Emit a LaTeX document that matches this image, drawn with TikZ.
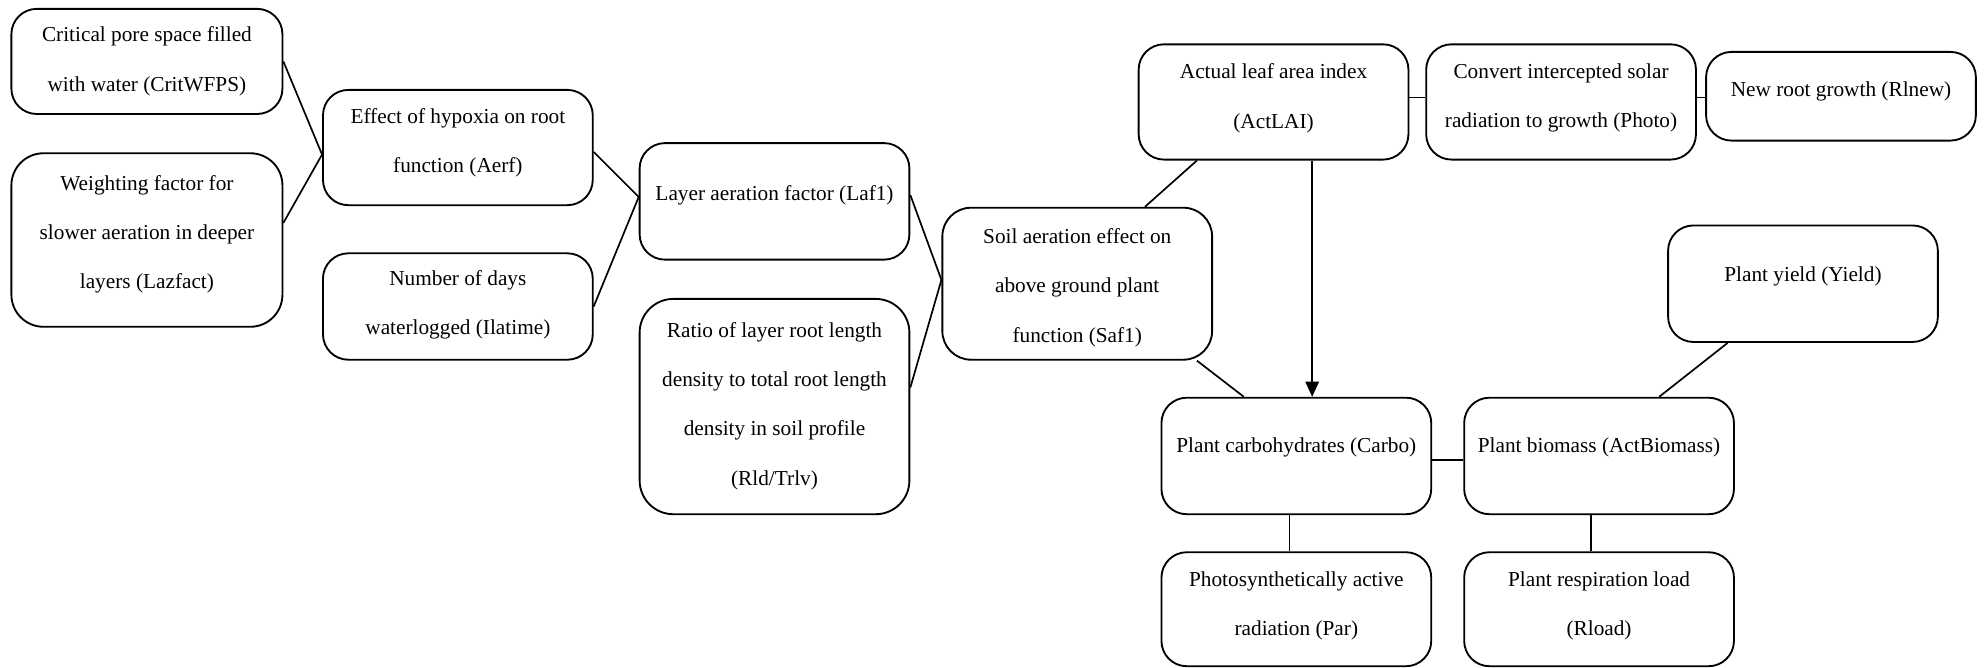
\documentclass[tikz,border=0pt]{standalone}
\usepackage{fontspec}
\setmainfont{Liberation Serif}
\newfontfamily\timesfont{Liberation Serif}
\usetikzlibrary{arrows.meta,calc,fit}
\begin{document}
\begin{tikzpicture}[x=0.75pt,y=0.75pt,yscale=-1,xscale=1,
  box/.style={draw,line width=1.1pt,rounded corners=15pt,inner sep=0pt},
  txt/.style={align=center,inner sep=0pt,font=\timesfont\fontsize{12.6}{29.25}\selectfont},
  link/.style={line width=1pt},
  arr/.style={line width=1pt,-{Triangle[length=9pt,width=8pt]}}]
\useasboundingbox (0,0) rectangle (1568,527);
%boxes
\node[box,fit={(9,7) (223,90)}] (crit) {};
\node[box,fit={(9,121) (223,258)},rounded corners=19pt] (laz) {};
\node[box,fit={(255,71) (468,162)}] (aerf) {};
\node[box,fit={(255,200) (468,284)}] (ilat) {};
\node[box,fit={(505,113) (718,205)}] (laf) {};
\node[box,fit={(505,236) (718,406)},rounded corners=20pt] (rld) {};
\node[box,fit={(744,164) (957,284)},rounded corners=17pt] (saf) {};
\node[box,fit={(899,35) (1112,126)}] (lai) {};
\node[box,fit={(1126,35) (1339,126)}] (photo) {};
\node[box,fit={(1347,41) (1560,111)}] (rlnew) {};
\node[box,fit={(1317,178) (1530,270)}] (yield) {};
\node[box,fit={(917,314) (1130,406)}] (carbo) {};
\node[box,fit={(1156,314) (1369,406)}] (biom) {};
\node[box,fit={(917,436) (1130,526)}] (par) {};
\node[box,fit={(1156,436) (1369,526)}] (rload) {};
%texts
\node[txt] (crit-t) at (116,48.5) {Critical pore space filled\\with water (CritWFPS)};
\node[txt] (laz-t) at (116,185) {Weighting factor for\\slower aeration in deeper\\layers (Lazfact)};
\node[txt] (aerf-t) at (361.5,112.5) {Effect of hypoxia on root\\function (Aerf)};
\node[txt] (ilat-t) at (361.5,240.5) {Number of days\\waterlogged (Ilatime)};
\node[txt] (laf-t) at (611.5,154) {Layer aeration factor (Laf1)};
\node[txt] (rld-t) at (611.5,320.5) {Ratio of layer root length\\density to total root length\\density in soil profile\\(Rld/Trlv)};
\node[txt] (saf-t) at (850.5,227) {Soil aeration effect on\\above ground plant\\function (Saf1)};
\node[txt] (lai-t) at (1005.5,77.5) {Actual leaf area index\\(ActLAI)};
\node[txt] (photo-t) at (1232.5,77.5) {Convert intercepted solar\\radiation to growth (Photo)};
\node[txt] (rlnew-t) at (1453.5,72) {New root growth (Rlnew)};
\node[txt] (yield-t) at (1423.5,218) {Plant yield (Yield)};
\node[txt] (carbo-t) at (1023.5,353) {Plant carbohydrates (Carbo)};
\node[txt] (biom-t) at (1262.5,353) {Plant biomass (ActBiomass)};
\node[txt] (par-t) at (1023.5,478.5) {Photosynthetically active\\radiation (Par)};
\node[txt] (rload-t) at (1262.5,478.5) {Plant respiration load\\(Rload)};
%links
\draw[link] (crit.east) -- ($(aerf.west)+(0,5.5)$);
\draw[link] ($(laz.east)+(0,-13.5)$) -- ($(aerf.west)+(0,5.5)$);
\draw[link] ($(aerf.east)+(0,3.5)$) -- ($(laf.west)+(0,-3.5)$);
\draw[link] (ilat.east) -- ($(laf.west)+(0,-3.5)$);
\draw[link] ($(laf.east)+(0,-5)$) -- ($(saf.west)+(0,-3)$);
\draw[link] ($(rld.east)+(0,-15)$) -- ($(saf.west)+(0,-3)$);
\draw[link] ($(lai.south)+(-60.5,0)$) -- ($(saf.north)+(53.5,0)$);
\draw[link] ($(saf.south)+(94.5,0)$) -- ($(carbo.north)+(-41.5,0)$);
\draw[arr] ($(lai.south)+(30.5,0)$) -- ($(carbo.north)+(12.5,0)$);
\draw[link] ($(lai.east)+(0,-3.5)$) -- ($(photo.west)+(0,-3.5)$);
\draw[link] ($(photo.east)+(0,-3.5)$) -- ($(rlnew.west)+(0,1)$);
\draw[link] ($(carbo.east)+(0,3)$) -- ($(biom.west)+(0,3)$);
\draw[link] ($(carbo.south)+(-5.5,0)$) -- ($(par.north)+(-5.5,0)$);
\draw[link] ($(biom.south)+(-6.5,0)$) -- ($(rload.north)+(-6.5,0)$);
\draw[link] ($(biom.north)+(47.5,0)$) -- ($(yield.south)+(-59.5,0)$);
\end{tikzpicture}
\end{document}
